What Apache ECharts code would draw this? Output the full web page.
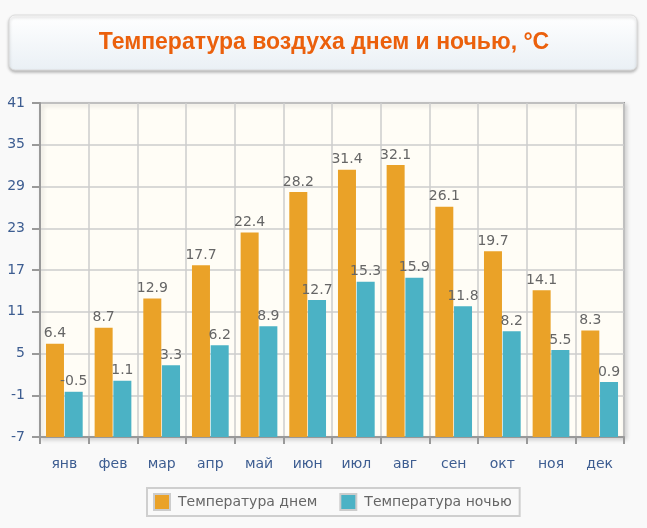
<!DOCTYPE html>
<html>
<head>
<meta charset="utf-8">
<script src="https://cdn.jsdelivr.net/npm/echarts@6/dist/echarts.min.js"></script>
<style>
html, body { margin: 0; padding: 0; background: #f9f9f9; }
#main { width: 647px; height: 528px; }
</style>
</head>
<body>
<div id="main"></div>
<script>
const months = ['янв', 'фев', 'мар', 'апр', 'май', 'июн', 'июл', 'авг', 'сен', 'окт', 'ноя', 'дек'];
const dayTemp = [6.4, 8.7, 12.9, 17.7, 22.4, 28.2, 31.4, 32.1, 26.1, 19.7, 14.1, 8.3];
const nightTemp = [-0.5, 1.1, 3.3, 6.2, 8.9, 12.7, 15.3, 15.9, 11.8, 8.2, 5.5, 0.9];
const yMin = -7, yMax = 41, yStep = 6;

const chart = echarts.init(document.getElementById('main'));

const labelStyle = {
  show: true,
  position: 'top',
  distance: 3,
  color: '#666',
  fontFamily: 'DejaVu Sans',
  fontSize: 14
};

chart.setOption({
  animation: false,
  backgroundColor: '#f9f9f9',
  graphic: [
    {
      type: 'rect',
      shape: { x: 9, y: 15, width: 628, height: 55, r: 6 },
      style: {
        fill: new echarts.graphic.LinearGradient(0, 0, 0, 1, [
          { offset: 0, color: '#ffffff' },
          { offset: 1, color: '#eaf0f5' }
        ]),
        stroke: '#dcdcdc',
        lineWidth: 1,
        shadowBlur: 3,
        shadowOffsetY: 2,
        shadowColor: 'rgba(0,0,0,0.25)'
      }
    },
    {
      type: 'text',
      x: 324,
      y: 43,
      style: {
        text: 'Температура воздуха днем и ночью, °C',
        fill: '#eb600c',
        align: 'center',
        verticalAlign: 'middle',
        font: 'bold 23px "Liberation Sans", Arial, sans-serif'
      }
    }
  ],
  grid: {
    left: 40, right: 23, top: 103, bottom: 91,
    show: true,
    backgroundColor: '#fffdf6',
    borderColor: '#999',
    borderWidth: 2,
    shadowBlur: 4,
    shadowOffsetX: 2,
    shadowOffsetY: 2,
    shadowColor: 'rgba(0,0,0,0.15)'
  },
  legend: {
    left: 147,
    top: 488,
    data: ['Температура днем', 'Температура ночью'],
    icon: 'rect',
    itemWidth: 16,
    itemHeight: 16,
    itemGap: 22,
    padding: [5, 8, 5, 6],
    borderColor: '#cfcfcf',
    borderWidth: 2,
    itemStyle: { borderColor: '#ccc', borderWidth: 2 },
    textStyle: { color: '#666', fontFamily: 'DejaVu Sans', fontSize: 14, padding: [0, 0, 0, 3] }
  },
  xAxis: {
    type: 'category',
    data: months,
    axisLine: { show: true, onZero: false, lineStyle: { color: '#999', width: 2 } },
    axisTick: { show: true, length: 7, lineStyle: { color: '#999', width: 2 } },
    axisLabel: { color: '#3d5d91', fontFamily: 'DejaVu Sans', fontSize: 14, margin: 20 },
    splitLine: { show: true, lineStyle: { color: '#ccc', width: 1.5 } }
  },
  yAxis: {
    type: 'value',
    min: yMin,
    max: yMax,
    interval: yStep,
    startValue: yMin,
    axisLine: { show: true, lineStyle: { color: '#999', width: 2 } },
    axisTick: { show: true, length: 8, lineStyle: { color: '#999', width: 2 } },
    axisLabel: { color: '#3d5d91', fontFamily: 'DejaVu Sans', fontSize: 14, margin: 15 },
    splitLine: { show: true, lineStyle: { color: '#ccc', width: 1.5 } }
  },
  series: [
    {
      name: 'Температура днем',
      type: 'bar',
      data: dayTemp,
      barWidth: 18,
      barGap: '4%',
      itemStyle: { color: '#eaa228' },
      label: labelStyle
    },
    {
      name: 'Температура ночью',
      type: 'bar',
      data: nightTemp,
      barWidth: 18,
      itemStyle: { color: '#4bb2c5' },
      label: labelStyle
    }
  ]
});
</script>
</body>
</html>
